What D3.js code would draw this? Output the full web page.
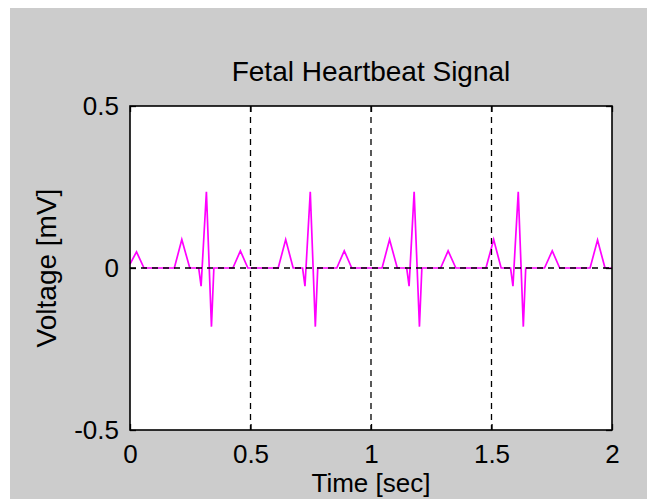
<!DOCTYPE html>
<html>
<head>
<meta charset="utf-8">
<script src="https://cdn.jsdelivr.net/npm/d3@7"></script>
<style>
  html, body { margin: 0; padding: 0; background: #fff; }
  svg { display: block; font-family: "Liberation Sans", Arial, sans-serif; }
</style>
</head>
<body>
<div id="chart"></div>
<script>
// signal vertices (sec, mV)
var timeSec = [
  0.000, 0.027, 0.058,
  0.184, 0.215, 0.248, 0.285, 0.295, 0.317, 0.338, 0.348, 0.427, 0.458, 0.489,
  0.615, 0.646, 0.677, 0.716, 0.726, 0.748, 0.769, 0.779, 0.858, 0.889, 0.920,
  1.046, 1.077, 1.109, 1.148, 1.158, 1.179, 1.201, 1.211, 1.289, 1.320, 1.352,
  1.477, 1.509, 1.540, 1.579, 1.589, 1.611, 1.632, 1.642, 1.720, 1.752, 1.783,
  1.909, 1.940, 1.971, 2.000
];
var voltageMv = [
  0.012, 0.050, 0,
  0, 0.088, 0, 0, -0.056, 0.235, -0.181, 0, 0, 0.053, 0,
  0, 0.088, 0, 0, -0.056, 0.235, -0.181, 0, 0, 0.053, 0,
  0, 0.088, 0, 0, -0.056, 0.235, -0.181, 0, 0, 0.053, 0,
  0, 0.088, 0, 0, -0.056, 0.235, -0.181, 0, 0, 0.053, 0,
  0, 0.086, 0, 0
];

var xTicks = [0, 0.5, 1, 1.5, 2];
var xTickLabels = ["0", "0.5", "1", "1.5", "2"];
var yTicks = [-0.5, 0, 0.5];
var yTickLabels = ["-0.5", "0", "0.5"];

var W = 647, H = 499;
var margin = {top: 106, right: 35, bottom: 69, left: 130};

var svg = d3.select("#chart")
  .append("svg")
    .attr("width", W)
    .attr("height", H);

// grey figure background
svg.append("rect")
  .attr("x", 10).attr("y", 8)
  .attr("width", W - 10).attr("height", H - 8)
  .attr("fill", "#cccccc");

var x = d3.scaleLinear()
  .domain([0, 2])
  .range([margin.left, W - margin.right]);

var y = d3.scaleLinear()
  .domain([-0.5, 0.5])
  .range([H - margin.bottom, margin.top]);

// plot area
svg.append("rect")
  .attr("x", x(0)).attr("y", y(0.5))
  .attr("width", x(2) - x(0)).attr("height", y(-0.5) - y(0.5))
  .attr("fill", "#fff");

// the signal
var pts = timeSec.map(function(t, i) { return [t, voltageMv[i]]; });
var line = d3.line()
  .x(function(d) { return x(d[0]); })
  .y(function(d) { return y(d[1]); });

svg.append("path")
  .datum(pts)
  .attr("d", line)
  .attr("fill", "none")
  .attr("stroke", "#ff00ff")
  .attr("stroke-width", 1.7)
  .attr("stroke-linejoin", "miter");

// dashed grid (drawn over the data like the original)
var grid = svg.append("g")
  .attr("stroke", "#000")
  .attr("stroke-width", 1.3)
  .attr("stroke-dasharray", "6,5");

grid.selectAll(".vgrid")
  .data(xTicks.slice(1, -1))
  .enter().append("line")
    .attr("class", "vgrid")
    .attr("x1", function(d) { return x(d); })
    .attr("x2", function(d) { return x(d); })
    .attr("y1", y(0.5))
    .attr("y2", y(-0.5));

grid.selectAll(".hgrid")
  .data(yTicks.slice(1, -1))
  .enter().append("line")
    .attr("class", "hgrid")
    .attr("x1", x(0))
    .attr("x2", x(2))
    .attr("y1", function(d) { return y(d); })
    .attr("y2", function(d) { return y(d); });

// axes, ticks pointing inwards
var xAxis = svg.append("g")
  .attr("transform", `translate(0,${y(-0.5)})`)
  .call(d3.axisBottom(x)
    .tickValues(xTicks)
    .tickFormat(function(d, i) { return xTickLabels[i]; })
    .tickSize(-6)
    .tickPadding(15));

var xAxisTop = svg.append("g")
  .attr("transform", `translate(0,${y(0.5)})`)
  .call(d3.axisTop(x).tickValues(xTicks).tickSize(-6).tickFormat(""));

var yAxis = svg.append("g")
  .attr("transform", `translate(${x(0)},0)`)
  .call(d3.axisLeft(y)
    .tickValues(yTicks)
    .tickFormat(function(d, i) { return yTickLabels[i]; })
    .tickSize(-6)
    .tickPadding(11));

var yAxisRight = svg.append("g")
  .attr("transform", `translate(${x(2)},0)`)
  .call(d3.axisRight(y).tickValues(yTicks).tickSize(-6).tickFormat(""));

svg.selectAll(".domain").remove();
svg.selectAll(".tick line").attr("stroke", "#000").attr("stroke-width", 1.3);
svg.selectAll(".tick text")
  .attr("fill", "#000")
  .style("font-size", "26px")
  .style("font-family", "'Liberation Sans', Arial, sans-serif");

// box
svg.append("rect")
  .attr("x", x(0)).attr("y", y(0.5))
  .attr("width", x(2) - x(0)).attr("height", y(-0.5) - y(0.5))
  .attr("fill", "none")
  .attr("stroke", "#000")
  .attr("stroke-width", 1.6);

// title and labels
svg.append("text")
  .attr("x", (x(0) + x(2)) / 2)
  .attr("y", 81)
  .attr("text-anchor", "middle")
  .style("font-size", "28px")
  .text("Fetal Heartbeat Signal");

svg.append("text")
  .attr("x", (x(0) + x(2)) / 2)
  .attr("y", 492)
  .attr("text-anchor", "middle")
  .style("font-size", "26px")
  .text("Time [sec]");

svg.append("text")
  .attr("transform", `translate(56,${y(0)}) rotate(-90)`)
  .attr("text-anchor", "middle")
  .style("font-size", "28px")
  .text("Voltage [mV]");
</script>
</body>
</html>
